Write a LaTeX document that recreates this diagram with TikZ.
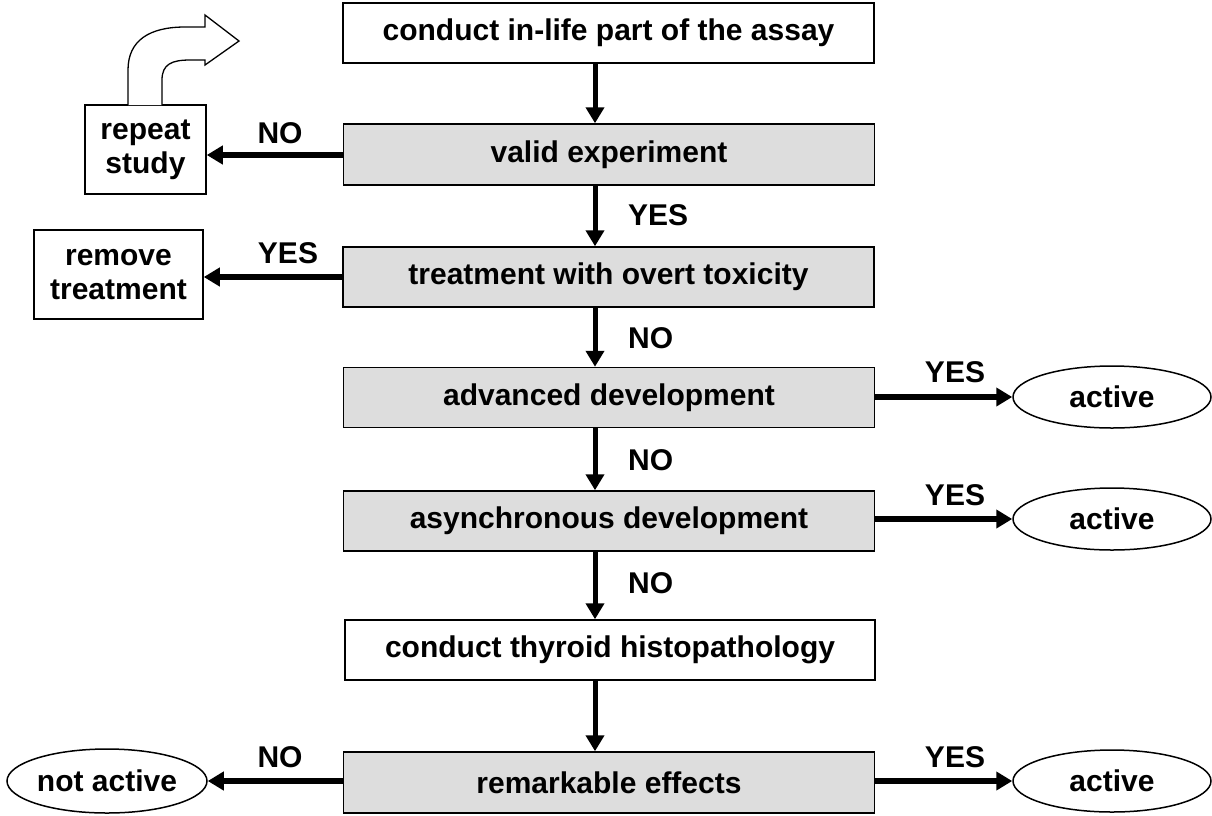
\documentclass[tikz,border=0pt]{standalone}
\usepackage{fontspec}
\setmainfont{Liberation Sans}
\usetikzlibrary{arrows.meta,shapes.geometric}
\definecolor{boxgray}{HTML}{DDDDDD}
\begin{document}
\begin{tikzpicture}[x=1pt,y=-1pt,
  base/.style={font=\fontsize{30}{34}\selectfont\bfseries, inner sep=0pt, align=center},
  wbox/.style={base, rectangle, draw=black, line width=1.5pt, fill=white},
  gbox/.style={wbox, fill=boxgray},
  wide/.style={minimum width=531pt, minimum height=60pt},
  oval/.style={base, ellipse, draw=black, line width=1.5pt, fill=white, minimum width=198pt, minimum height=62pt},
  varr/.style={line width=5pt, -{Triangle[width=18pt,length=16pt]}},
  harr/.style={line width=6pt, -{Triangle[width=18pt,length=16pt]}},
  lbl/.style={base}]
\useasboundingbox (0,0) rectangle (1212,815);

% main column
\node[wbox, wide] (top) at (608.5,33) {conduct in-life part of the assay};
\node[gbox, wide, minimum height=61pt] (valid) at (609,154.5) {valid experiment};
\node[gbox, wide] (treat) at (608.5,277) {treatment with overt toxicity};
\node[gbox, wide] (adv) at (609,397.5) {advanced development};
\node[gbox, wide] (asyn) at (609,521) {asynchronous development};
\node[wbox, wide, minimum width=530pt] (thy) at (610,650) {conduct thyroid histopathology};
\node[gbox, wide, minimum height=61pt] (rem) at (609,782.5) {remarkable effects};

% side boxes
\node[wbox, minimum width=121pt, minimum height=89pt] (repeat) at (145.5,149.5) {repeat\\study};
\node[wbox, minimum width=169pt, minimum height=89pt] (remove) at (118.5,274.5) {remove\\treatment};

% ovals
\node[oval] (act1) at (1112,397) {active};
\node[oval] (act2) at (1112,519) {active};
\node[oval] (act3) at (1112,781) {active};
\node[oval, minimum width=200pt, minimum height=64pt] (nact) at (107,781) {not active};

% spine
\coordinate (spine) at (595,0);
\draw[varr] (top.south -| spine) -- (valid.north -| spine);
\draw[varr] (valid.south -| spine) -- (treat.north -| spine);
\draw[varr] (treat.south -| spine) -- (adv.north -| spine);
\draw[varr] (adv.south -| spine) -- (asyn.north -| spine);
\draw[varr] (asyn.south -| spine) -- (thy.north -| spine);
\draw[varr] (thy.south -| spine) -- (rem.north -| spine);

% horizontal arrows
\coordinate (y1) at (0,155);
\coordinate (y2) at (0,277);
\draw[harr] (valid.west |- y1) -- (repeat.east |- y1);
\draw[harr] (treat.west |- y2) -- (remove.east |- y2);
\draw[harr] (adv.east |- act1) -- (act1.west);
\draw[harr] (asyn.east |- act2) -- (act2.west);
\draw[harr] (rem.east |- act3) -- (act3.west);
\draw[harr] (rem.west |- nact) -- (nact.east);

% labels on vertical arrows
\node[lbl, anchor=west] (l1) at (628,215) {YES};
\node[lbl, anchor=west] (l2) at (628,338) {NO};
\node[lbl, anchor=west] (l3) at (628,460) {NO};
\node[lbl, anchor=west] (l4) at (628,583) {NO};

% labels on horizontal arrows
\node[lbl] (l5) at (280,133) {NO};
\node[lbl] (l6) at (288,253) {YES};
\node[lbl] (l7) at (955,372) {YES};
\node[lbl] (l8) at (955,495) {YES};
\node[lbl] (l9) at (955,757) {YES};
\node[lbl] (l10) at (280,757) {NO};

% curved block arrow above "repeat study"
\draw[line width=1.3pt, fill=white, line join=miter]
  (162,105) -- (162,80) .. controls (162,64) and (172,60) .. (190,60)
  -- (205,60) -- (205,65) -- (239,41) -- (205,15) -- (205,27) -- (185,27)
  .. controls (150,27) and (128,40) .. (128,70) -- (128,105);
\end{tikzpicture}
\end{document}
